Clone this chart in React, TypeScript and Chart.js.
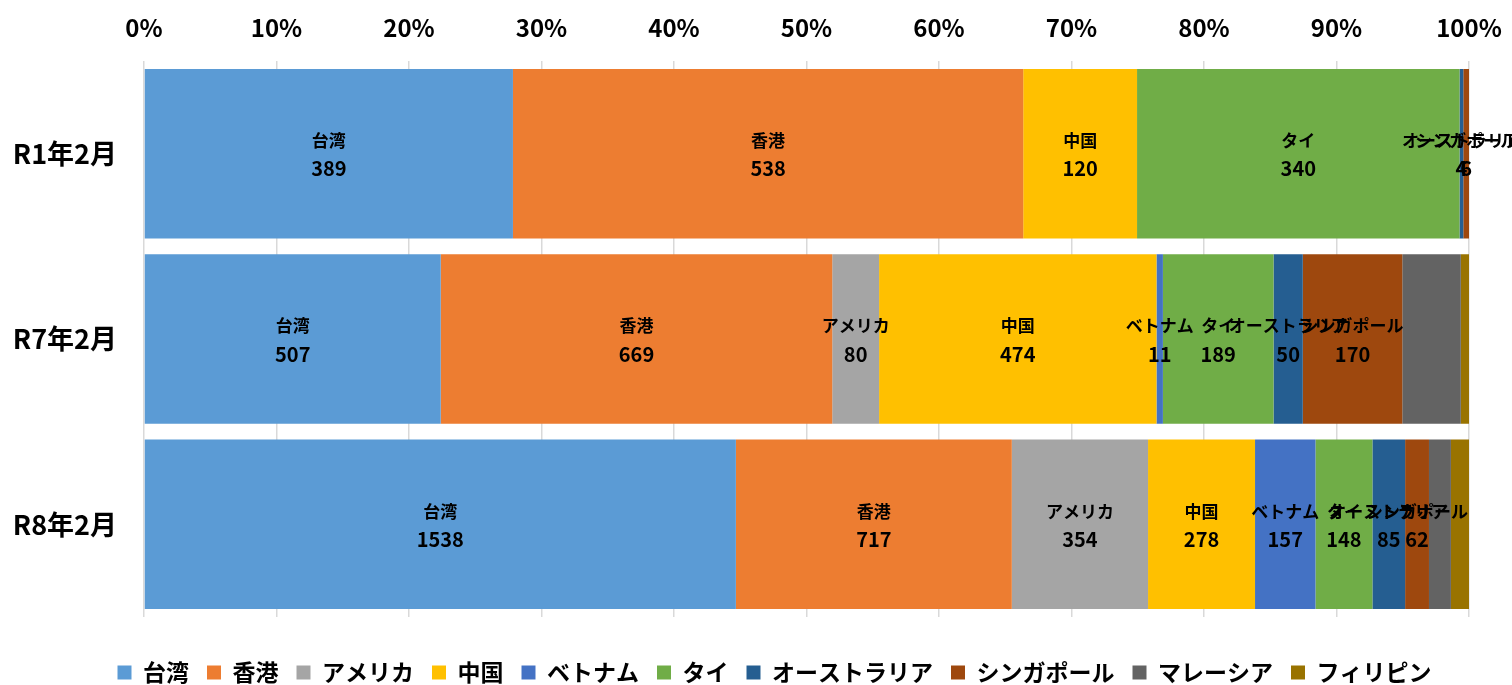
import React, { useEffect, useRef } from "react";
import { Chart, registerables } from "chart.js";

Chart.register(...registerables);

const categories = ["R1年2月", "R7年2月", "R8年2月"];
const seriesNames = ["台湾", "香港", "アメリカ", "中国", "ベトナム", "タイ", "オーストラリア", "シンガポール", "マレーシア", "フィリピン"];
const seriesColors = ["#5B9BD5", "#ED7D31", "#A5A5A5", "#FFC000", "#4472C4", "#70AD47", "#255E91", "#9E480E", "#636363", "#997300"];
const taiwan = [389, 507, 1538];
const hongkong = [538, 669, 717];
const america = [0, 80, 354];
const china = [120, 474, 278];
const vietnam = [0, 11, 157];
const thai = [340, 189, 148];
const australia = [4, 50, 85];
const singapore = [6, 170, 62];
const malaysia = [0, 100, 57];
const philippines = [0, 14, 47];
const labeledSeries = [true, true, true, true, true, true, true, true, false, false];
const xTicks = [0, 10, 20, 30, 40, 50, 60, 70, 80, 90, 100];

const FONT = "'Noto Sans CJK JP', 'Noto Sans', sans-serif";

export default function App() {
  const ref = useRef<HTMLCanvasElement | null>(null);
  useEffect(() => {
    if (!ref.current) return;
    const raw = [taiwan, hongkong, america, china, vietnam, thai, australia, singapore, malaysia, philippines];
    const totals = categories.map((_, j) => raw.reduce((s, arr) => s + arr[j], 0));
    const datasets = raw.map((arr, i) => ({
      label: seriesNames[i],
      data: arr.map((v, j) => (v / totals[j]) * 100),
      backgroundColor: seriesColors[i],
      borderWidth: 0,
      barPercentage: 0.915,
      categoryPercentage: 1,
    }));

    const labelPlugin = {
      id: "segLabels",
      afterDatasetsDraw(chart: any) {
        const ctx = chart.ctx;
        ctx.save();
        ctx.fillStyle = "#000";
        ctx.textAlign = "center";
        ctx.textBaseline = "middle";
        chart.data.datasets.forEach((ds: any, i: number) => {
          if (!labeledSeries[i]) return;
          const meta = chart.getDatasetMeta(i);
          meta.data.forEach((el: any, j: number) => {
            const v = raw[i][j];
            if (!v) return;
            const cx = (el.x + el.base) / 2;
            const cy = el.y;
            ctx.font = `bold 17px ${FONT}`;
            ctx.fillText(seriesNames[i], cx, cy - 13);
            ctx.font = `bold 20px ${FONT}`;
            ctx.fillText(String(v), cx, cy + 15);
          });
        });
        ctx.restore();
      },
    };

    const legendShift = {
      id: "legendShift",
      afterLayout(chart: any) {
        if (chart.legend) {
          chart.legend.left += 40;
          chart.legend.right += 40;
        }
      },
    };

    const chart = new Chart(ref.current, {
      type: "bar",
      data: { labels: categories, datasets },
      options: {
        indexAxis: "y",
        animation: false,
        responsive: false,
        maintainAspectRatio: false,
        layout: { padding: { left: 0, right: 43, top: 0, bottom: -9 } },
        scales: {
          x: {
            stacked: true,
            position: "top",
            min: 0,
            max: 100,
            afterBuildTicks(axis: any) {
              axis.ticks = xTicks.map((v) => ({ value: v }));
            },
            afterFit(scale: any) {
              scale.height = 61;
              scale.paddingLeft = 0;
              scale.paddingRight = 0;
            },
            ticks: {
              callback: (v: any) => `${v}%`,
              font: { family: FONT, size: 24, weight: "bold" },
              color: "#000",
              padding: 19,
            },
            grid: { color: "#d9d9d9", drawTicks: false, lineWidth: 1.5 },
            border: { display: false },
          },
          y: {
            stacked: true,
            afterFit(scale: any) {
              scale.width = 144;
            },
            ticks: {
              font: { family: FONT, size: 27, weight: "bold" },
              color: "#000",
              padding: 19,
            },
            grid: { display: false },
            border: { display: false },
          },
        },
        plugins: {
          legend: {
            position: "bottom",
            title: { display: true, text: "", font: { size: 10, lineHeight: 1 }, padding: { top: 16, bottom: 0 } },
            labels: {
              font: { family: FONT, size: 23, weight: "bold" },
              color: "#000",
              boxWidth: 14,
              boxHeight: 14,
              padding: 18,
            },
          },
          tooltip: { enabled: false },
        },
      },
      plugins: [labelPlugin, legendShift],
    });
    return () => chart.destroy();
  }, []);
  return (
    <div style={{ position: "fixed", left: 0, top: 0, width: 1512, height: 685, background: "#fff", overflow: "hidden" }}>
      <canvas ref={ref} width={1512} height={685} style={{ width: 1512, height: 685 }} />
    </div>
  );
}
